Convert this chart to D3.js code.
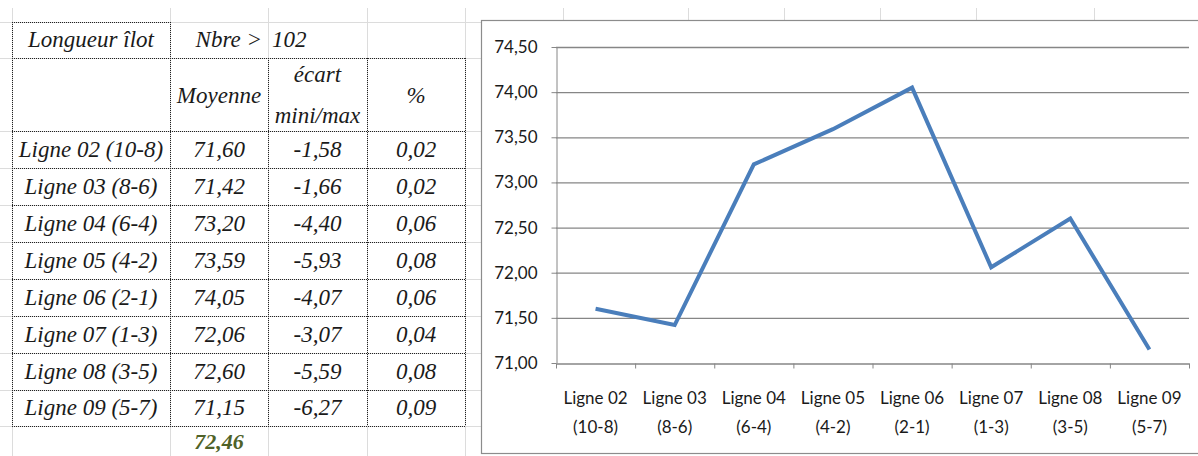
<!DOCTYPE html>
<html><head><meta charset="utf-8">
<script src="https://cdn.jsdelivr.net/npm/d3@7"></script>
<style>
html,body{margin:0;padding:0;background:#fff;}
svg{display:block;}
</style></head>
<body>
<svg id="c" width="1198" height="456"></svg>
<script>
// ---- data ----
const lignes = ["Ligne 02","Ligne 03","Ligne 04","Ligne 05","Ligne 06","Ligne 07","Ligne 08","Ligne 09"];
const ranges = ["(10-8)","(8-6)","(6-4)","(4-2)","(2-1)","(1-3)","(3-5)","(5-7)"];
const moyenne = [71.60, 71.42, 73.20, 73.59, 74.05, 72.06, 72.60, 71.15];
const ecart = [-1.58, -1.66, -4.40, -5.93, -4.07, -3.07, -5.59, -6.27];
const pct = [0.02, 0.02, 0.06, 0.08, 0.06, 0.04, 0.08, 0.09];
const yTicks = [71.0, 71.5, 72.0, 72.5, 73.0, 73.5, 74.0, 74.5];
const headerLabels = ["Longueur îlot", "Nbre >", "102"];
const colLabels = ["Moyenne", "écart", "mini/max", "%"];
const overallMean = 72.46;

const loc = d3.formatLocale({decimal:",", thousands:" ", grouping:[3], currency:["","€"], minus:"-"});
const f2 = loc.format(".2f");

const SERIF = "'Liberation Serif', serif";
const SANS = "Lato, 'Liberation Sans', sans-serif";

const svg = d3.select("#c");

// ---- spreadsheet background grid ----
const colX = [12, 170, 268, 367, 465];
const rowY = [22, 58, 131, 168, 205, 242, 279, 316, 353, 390, 426];
const sheetCol = "#dcdcdc";
const bg = svg.append("g");
colX.forEach(x => bg.append("line").attr("x1", x+0.5).attr("x2", x+0.5).attr("y1", 8).attr("y2", 456).attr("stroke", sheetCol));
rowY.forEach(y => bg.append("line").attr("x1", 0).attr("x2", 482).attr("y1", y+0.5).attr("y2", y+0.5).attr("stroke", sheetCol));
[563, 688, 784, 880, 976, 1094].forEach(x => bg.append("line").attr("x1", x+0.5).attr("x2", x+0.5).attr("y1", 8).attr("y2", 21).attr("stroke", sheetCol));

// ---- table ----
const tb = svg.append("g");
function dline(x1,y1,x2,y2){
  tb.append("line").attr("x1",x1).attr("y1",y1).attr("x2",x2).attr("y2",y2)
    .attr("stroke","#222").attr("stroke-width",1).attr("stroke-dasharray","1,1");
}
dline(colX[0], rowY[0]+0.5, colX[1], rowY[0]+0.5);
dline(colX[0]+0.5, rowY[0], colX[0]+0.5, rowY[1]);
dline(colX[1]+0.5, rowY[0], colX[1]+0.5, rowY[1]);
for (let i = 1; i < rowY.length; i++) dline(colX[0], rowY[i]+0.5, colX[4]+1, rowY[i]+0.5);
colX.forEach(x => dline(x+0.5, rowY[1], x+0.5, rowY[rowY.length-1]));

const cx = i => (colX[i] + colX[i+1]) / 2;
function t(x, y, s, anchor){
  return tb.append("text").attr("x",x).attr("y",y).attr("text-anchor",anchor||"middle")
    .attr("font-family", SERIF).attr("font-style","italic").attr("font-size",23).attr("fill","#1a1a1a").text(s);
}
t(cx(0), 47, headerLabels[0]);
t(262, 47, headerLabels[1], "end");
t(272, 47, headerLabels[2], "start");
t(cx(1), 103, colLabels[0]);
t(cx(2), 82, colLabels[1]);
t(cx(2), 123, colLabels[2]);
t(cx(3), 103, colLabels[3]);
lignes.forEach((l, i) => {
  const yy = (rowY[i+2] + rowY[i+3]) / 2 + 7;
  t(cx(0), yy, l + " " + ranges[i]);
  t(cx(1), yy, f2(moyenne[i]));
  t(cx(2), yy, f2(ecart[i]));
  t(cx(3), yy, f2(pct[i]));
});
t(cx(1), 449, f2(overallMean)).attr("fill", "#4f6228").attr("font-weight","bold").attr("font-size",22);

// ---- chart ----
const ch = svg.append("g");
ch.append("rect").attr("x", 481.5).attr("y", 20.5).attr("width", 760).attr("height", 433).attr("fill", "#fff").attr("stroke", "#8c8c8c").attr("stroke-width", 1.2);

const x0 = 556, x1 = 1189;
const x = d3.scaleBand().domain(lignes).range([x0, x1]).padding(0);
const xi = d3.scaleLinear().domain([0, lignes.length]).range([x0, x1]);
const y = d3.scaleLinear().domain([71, 74.5]).range([363, 47]);

// gridlines
ch.append("g").attr("transform", `translate(${x0},0)`)
  .call(d3.axisLeft(y).tickValues(yTicks.slice(1)).tickSize(-(x1 - x0)).tickFormat(""))
  .call(g => g.select(".domain").remove())
  .call(g => g.selectAll("line").attr("stroke", "#868686").attr("stroke-width", 1.3));

// y axis
ch.append("g").attr("transform", `translate(${x0 + 0.5},0)`)
  .call(d3.axisLeft(y).tickValues(yTicks).tickSize(5).tickSizeOuter(0).tickPadding(14).tickFormat(f2))
  .call(g => g.select(".domain").attr("stroke", "#868686"))
  .call(g => g.selectAll("line").attr("stroke", "#868686"))
  .call(g => g.attr("font-family", SANS).attr("font-size", 17))
  .call(g => g.selectAll("text").attr("fill", "#1a1a1a"));

// x axis baseline + boundary ticks
ch.append("g").attr("transform", `translate(0,${y(71) + 0.5})`)
  .call(d3.axisBottom(xi).tickValues(d3.range(lignes.length + 1)).tickSize(5).tickSizeOuter(0).tickFormat(""))
  .call(g => g.select(".domain").attr("stroke", "#868686").attr("stroke-width", 1.3))
  .call(g => g.selectAll("line").attr("stroke", "#868686"));

// x labels (two lines)
const xl = ch.append("g").attr("font-family", SANS).attr("font-size", 17).attr("fill", "#1a1a1a").attr("text-anchor", "middle");
lignes.forEach((l, i) => {
  const px = x(l) + x.bandwidth() / 2;
  xl.append("text").attr("x", px).attr("y", 404).text(l);
  xl.append("text").attr("x", px).attr("y", 433).text(ranges[i]);
});

// line
const line = d3.line().x((d, i) => x(lignes[i]) + x.bandwidth() / 2).y(d => y(d));
ch.append("path").datum(moyenne).attr("d", line).attr("fill", "none")
  .attr("stroke", "#4a7ebb").attr("stroke-width", 4).attr("stroke-linejoin", "miter");
</script>
</body></html>
